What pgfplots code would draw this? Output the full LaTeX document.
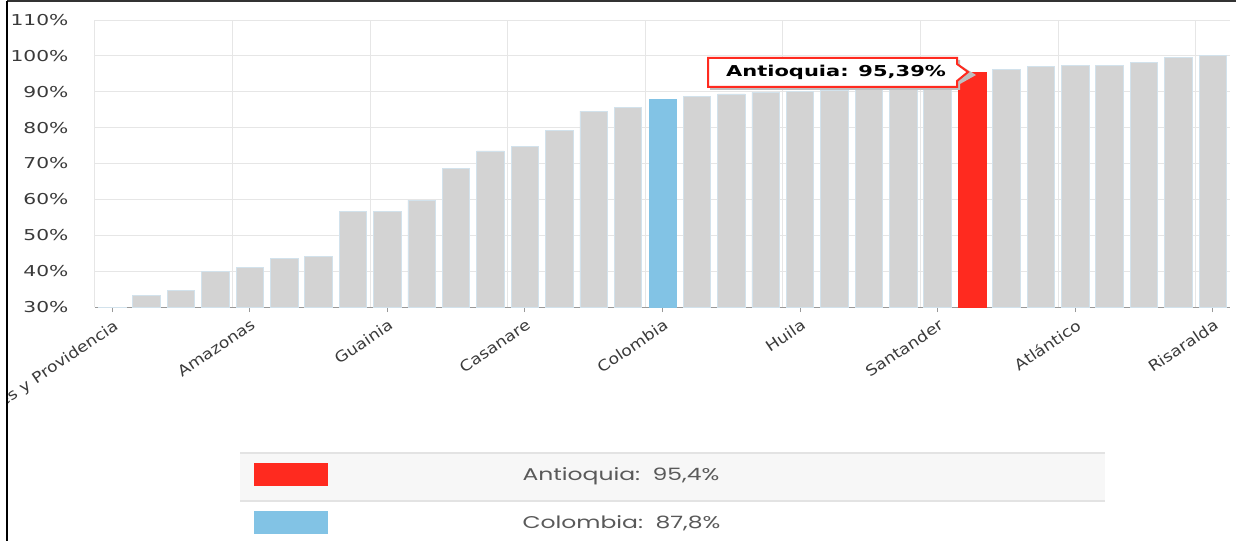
\documentclass[border=0pt]{standalone}
\usepackage{fontspec}
\usepackage{pgfplots}
\pgfplotsset{compat=1.18}
\setmainfont{DejaVu Sans}
\newfontfamily\tickfont[FakeStretch=1.35]{DejaVu Sans}
\newfontfamily\xfont[FakeStretch=1.15]{DejaVu Sans}
\newfontfamily\tipfont[FakeStretch=1.4]{DejaVu Sans}
\newfontfamily\legfont[FakeStretch=1.38]{Poppins}

\definecolor{bargray}{HTML}{D3D3D3}
\definecolor{baredge}{HTML}{D2E2EC}
\definecolor{barred}{HTML}{FF2A1F}
\definecolor{barblue}{HTML}{82C3E5}
\definecolor{gridc}{HTML}{E6E6E6}
\definecolor{labc}{HTML}{3A3A3A}

\begin{document}
\begin{tikzpicture}[x=1pt,y=1pt]
\useasboundingbox (0,0) rectangle (1236,542);
\begin{scope}
\clip (8,0) rectangle (1236,542);
\begin{axis}[
    at={(95pt,235pt)}, anchor=south west,
    scale only axis,
    width=1135pt, height=287pt,
    xmin=-0.5, xmax=32.5,
    ymin=30, ymax=110,
    axis x line*=bottom, axis y line*=left,
    axis line style={-},
    x axis line style={draw=black!40, line width=1pt},
    y axis line style={draw=gridc, line width=1pt},
    ytick={30,40,...,110},
    yticklabels={30\%,40\%,50\%,60\%,70\%,80\%,90\%,100\%,110\%},
    ymajorgrids=true,
    grid style={draw=gridc, line width=1pt},
    ytick style={draw=none},
    yticklabel style={font=\tickfont\fontsize{15}{18}\selectfont, text=labc, anchor=east, xshift=-18pt},
    xtick={0,4,...,32},
    xticklabels={San Andrés y Providencia,Amazonas,Guainia,Casanare,Colombia,Huila,Santander,Atlántico,Risaralda},
    xtick style={draw=black!40, line width=1pt},
    tick align=outside,
    major tick length=5pt,
    xticklabel style={font=\xfont\fontsize{15}{18}\selectfont, text=labc, rotate=34, anchor=north east, xshift=0pt, yshift=-2pt},
    extra x ticks={3.5,7.5,11.5,15.5,19.5,23.5,27.5,31.5},
    extra x tick labels={},
    extra x tick style={grid=major, major tick length=0pt},
    clip=true,
]
\addplot[ybar, bar width=0.8, bar shift=0pt, fill=bargray, draw=baredge, line width=0.8pt] coordinates {
    (0,29)(1,33.3)(2,34.7)(3,39.8)(4,41.0)(5,43.5)(6,44.1)(7,56.6)(8,56.6)(9,59.8)
    (10,68.7)(11,73.5)(12,74.8)(13,79.2)(14,84.6)(15,85.6)(17,88.7)(18,89.4)(19,89.8)
    (20,90.0)(21,90.5)(22,91.0)(23,91.3)(24,91.7)(26,96.2)(27,97.1)(28,97.4)(29,97.4)
    (30,98.1)(31,99.6)(32,100.0)
};
\addplot[ybar, bar width=0.8, bar shift=0pt, fill=barblue, draw=barblue] coordinates {(16,87.8)};
\addplot[ybar, bar width=0.8, bar shift=0pt, fill=barred, draw=barred] coordinates {(25,95.39)};
\end{axis}
\end{scope}

% tooltip
\fill[black!25] (710,452) -- (710,482) -- (960,482) -- (960,477) -- (976,467) -- (960,458) -- (960,452) -- cycle;
\draw[barred, line width=2pt, fill=white] (708,455) -- (708,484) -- (957,484) -- (957,478) -- (968,470) -- (957,461) -- (957,455) -- cycle;
\node[font=\tipfont\bfseries\fontsize{15}{18}\selectfont, text=black] at (836,470) {Antioquia: 95,39\%};

% legend
\fill[black!3] (240,41) rectangle (1105,89);
\draw[black!11, line width=1.5pt] (240,89) -- (1105,89);
\draw[black!11, line width=1.5pt] (240,41) -- (1105,41);
\fill[barred] (254,56) rectangle (328,79);
\fill[barblue] (254,8) rectangle (328,31);
\node[font=\legfont\fontsize{17}{20}\selectfont, text=black!65, anchor=west] at (519,66) {Antioquia:\ \ 95,4\%};
\node[font=\legfont\fontsize{17}{20}\selectfont, text=black!65, anchor=west] at (519,19) {Colombia:\ \ 87,8\%};

% frame
\draw[black!80, line width=1.5pt] (7,541) -- (1236,541);
\draw[black, line width=1.5pt] (7,541) -- (7,1);
\end{tikzpicture}
\end{document}
